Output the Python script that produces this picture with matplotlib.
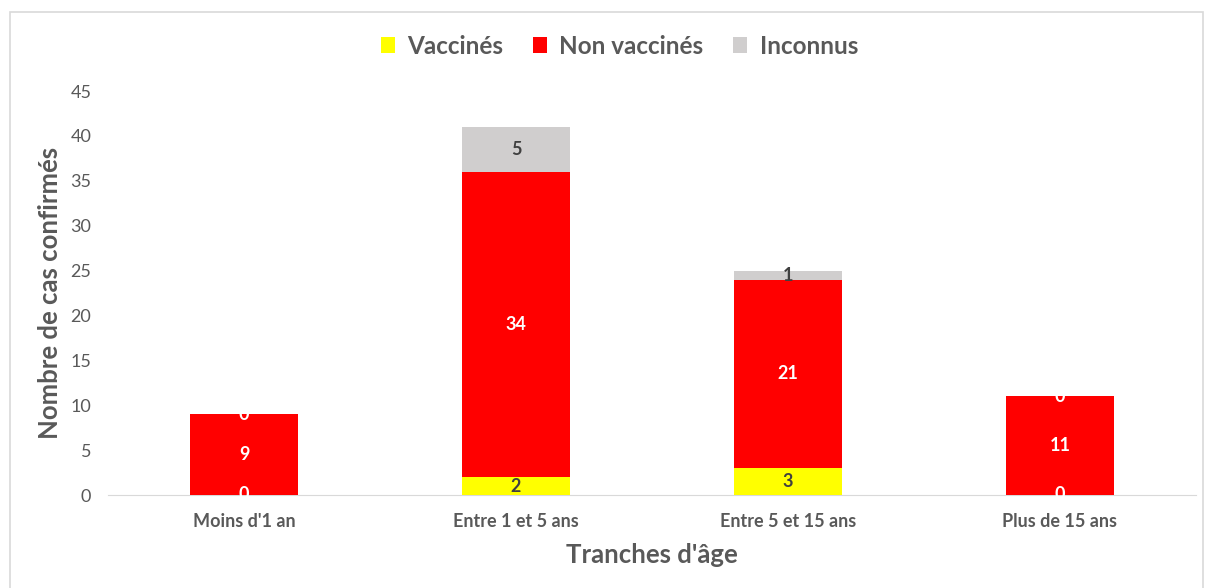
import matplotlib
matplotlib.use("Agg")
import matplotlib.pyplot as plt
import numpy as np
from matplotlib.patches import Rectangle

plt.rcParams['font.family'] = ['Lato', 'DejaVu Sans']

# données
categories = ["Moins d'1 an", "Entre 1 et 5 ans", "Entre 5 et 15 ans", "Plus de 15 ans"]
vaccines = [0, 2, 3, 0]
non_vaccines = [9, 34, 21, 11]
inconnus = [0, 5, 1, 0]
series_names = ["Vaccinés", "Non vaccinés", "Inconnus"]
series_colors = ["#FFFF00", "#FF0000", "#D0CECE"]

txt = "#595959"

fig = plt.figure(figsize=(12.05, 5.88), dpi=100)
ax = fig.add_axes([108 / 1205, 1 - 495 / 588, 1088 / 1205, 404 / 588])

# cadre du graphique
fig.patches.append(Rectangle((10 / 1205, -0.05), 1193 / 1205, 1.05 - 12 / 588,
                             transform=fig.transFigure, fill=False,
                             edgecolor="#D9D9D9", lw=1.2))

x = np.arange(len(categories))
w = 0.4
bottom = np.zeros(len(categories))
bars = []
for vals, name, col in zip([vaccines, non_vaccines, inconnus], series_names, series_colors):
    ax.bar(x, vals, w, bottom=bottom, color=col, label=name, zorder=2)
    bars.append((vals, bottom.copy()))
    bottom += np.array(vals)

# étiquettes de données
label_colors = [["white", "#404040", "#404040", "white"],
                ["white"] * 4,
                ["white", "#404040", "#404040", "white"]]
for (vals, bot), cols in zip(bars, label_colors):
    for i, v in enumerate(vals):
        ax.text(x[i], bot[i] + v / 2, str(v), ha="center", va="center",
                fontsize=13, fontweight="bold", color=cols[i], zorder=3)

ax.set_xlim(-0.5, 3.5)
ax.set_ylim(0, 45)
ax.set_yticks(range(0, 46, 5))
ax.set_xticks(x)
ax.set_xticklabels(categories, fontweight="bold")
ax.tick_params(axis="both", length=0, colors=txt, labelsize=13)
ax.tick_params(axis="x", pad=13)
ax.tick_params(axis="y", pad=12)
for s in ["top", "right", "left"]:
    ax.spines[s].set_visible(False)
ax.spines["bottom"].set_color("#D9D9D9")
ax.spines["bottom"].set_zorder(1)

ax.set_ylabel("Nombre de cas confirmés", fontsize=18.5, fontweight="bold", color=txt, labelpad=6)
ax.set_xlabel("Tranches d'âge", fontsize=18.5, fontweight="bold", color=txt, labelpad=9)

leg = fig.legend(loc="center", bbox_to_anchor=(0.514, 1 - 46 / 588), ncol=3,
                 frameon=False, handlelength=0.6, handleheight=0.6,
                 handletextpad=0.5, columnspacing=1.2,
                 prop={"size": 17.5, "weight": "bold"})
for t in leg.get_texts():
    t.set_color(txt)

fig.savefig("out.png", dpi=100)
